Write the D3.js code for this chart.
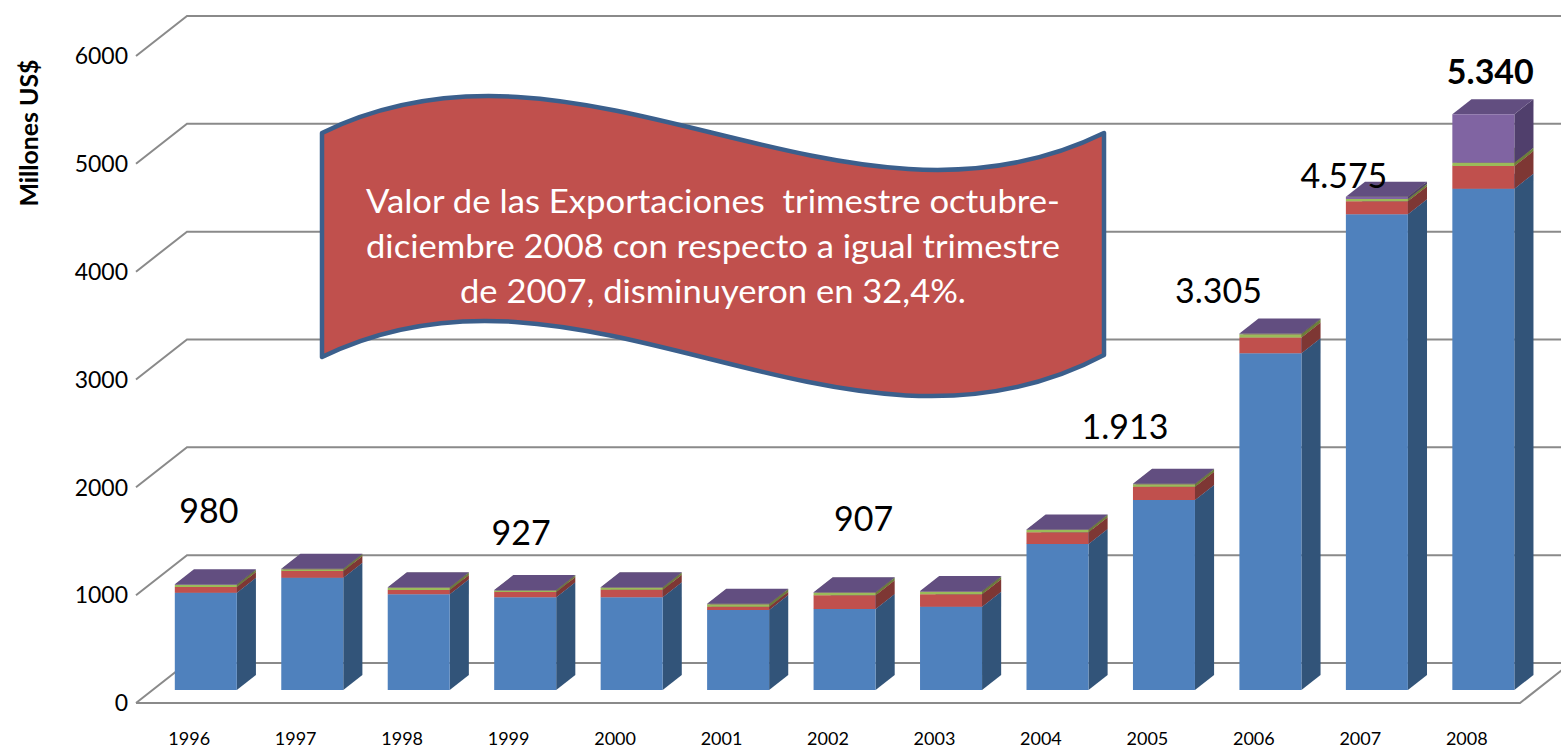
<!DOCTYPE html>
<html><head><meta charset="utf-8">
<script src="https://cdn.jsdelivr.net/npm/d3@7"></script>
<style>body{margin:0;background:#fff;} svg{display:block;}</style>
</head><body><svg id="c" width="1561" height="750"></svg>
<script>
// ---------- DATA ----------
const years  = ["1996","1997","1998","1999","2000","2001","2002","2003","2004","2005","2006","2007","2008"];
const blue   = [903, 1042, 887, 860, 860, 742, 751, 773, 1354, 1762, 3122, 4411, 4649];
const red    = [53,  62,   40,  48,  70,  31,  127, 115, 108,  123,  148,  121,  210];
const green  = [18,  16,   21,  15,  18,  22,  24,  24,  22,   22,   28,   21,   30];
const purple = [6,   5,    5,   4,   5,   5,   5,   5,   5,    6,    7,    22,   451];
const yTicks = [0, 1000, 2000, 3000, 4000, 5000, 6000];
const labelYears = ["1996","1999","2002","2005","2006","2007","2008"];
const yTitle = "Millones US$";
const bannerLines = [
  "Valor de las Exportaciones  trimestre octubre-",
  "diciembre 2008 con respecto a igual trimestre",
  "de 2007, disminuyeron en 32,4%."
];

// ---------- LAYOUT ----------
const svg = d3.select("#c");
const DX = 51, DY = 40;          // oblique depth offset
const D1 = 0.325, D2 = 0.70;     // bar depth span
const x = d3.scaleBand().domain(years).range([136, 1520]).paddingInner(0.4176).paddingOuter(0.2088);
const y = d3.scaleLinear().domain([0, 6000]).range([703, 56]);
const P = (xv, v, d) => [xv + DX * d, y(v) - DY * d];
const fmt = d3.formatLocale({decimal: ",", thousands: ".", grouping: [3], currency: ["", ""]}).format(",d");

// gridlines (left wall diagonal + back wall horizontal)
const grid = svg.append("g");
yTicks.forEach(t => {
  const a = P(136, t, 0), b = P(136, t, 1), c = P(1520, t, 1);
  grid.append("path").attr("d", `M${a}L${b}L${c}`)
    .attr("fill", "none").attr("stroke", "#8a8a8a").attr("stroke-width", 2);
});
// floor front + right edges
{
  const a = P(136, 0, 0), b = P(1520, 0, 0), c = P(1520, 0, 1);
  grid.append("path").attr("d", `M${a}L${b}L${c}`)
    .attr("fill", "none").attr("stroke", "#8a8a8a").attr("stroke-width", 2);
}

// tick labels
svg.append("g").selectAll("text").data(yTicks).join("text")
  .attr("x", 128).attr("y", d => y(d)).attr("dy", "0.36em")
  .attr("text-anchor", "end").attr("font-family", "Lato").attr("font-size", 23)
  .attr("fill", "#000").text(d => d);

// axis title
svg.append("text").attr("transform", "translate(38,133) rotate(-90)")
  .attr("text-anchor", "middle").attr("font-family", "Lato").attr("font-weight", "bold")
  .attr("font-size", 24).attr("textLength", 147).attr("lengthAdjust", "spacingAndGlyphs")
  .attr("fill", "#000").text(yTitle);

// category labels
svg.append("g").selectAll("text").data(years).join("text")
  .attr("x", d => x(d) + x.bandwidth() / 2).attr("y", 745)
  .attr("text-anchor", "middle").attr("font-family", "Lato").attr("font-size", 18)
  .attr("fill", "#000").text(d => d);

// stacked 3D bars
const rows = years.map((yr, i) => ({year: yr, blue: blue[i], red: red[i], green: green[i], purple: purple[i]}));
const keys = ["blue", "red", "green", "purple"];
const colors = {
  blue:   {front: "#4f81bd", side: "#325479", top: "#4a79b2"},
  red:    {front: "#c0504d", side: "#7e3734", top: "#a84644"},
  green:  {front: "#9bbb59", side: "#6a803a", top: "#8aa84e"},
  purple: {front: "#8064a2", side: "#503f6c", top: "#624e80"}
};
const series = d3.stack().keys(keys)(rows);
const bars = svg.append("g");
rows.forEach((r, i) => {
  const x0 = x(r.year), x1 = x0 + x.bandwidth();
  series.forEach(s => {
    const [v0, v1] = s[i];
    const c = colors[s.key];
    const poly = pts => "M" + pts.map(p => p.join(",")).join("L") + "Z";
    bars.append("path").attr("d", poly([P(x1, v0, D1), P(x1, v0, D2), P(x1, v1, D2), P(x1, v1, D1)]))
      .attr("fill", c.side);
    bars.append("path").attr("d", poly([P(x0, v1, D1), P(x1, v1, D1), P(x1, v1, D2), P(x0, v1, D2)]))
      .attr("fill", c.top);
    bars.append("path").attr("d", poly([P(x0, v0, D1), P(x1, v0, D1), P(x1, v1, D1), P(x0, v1, D1)]))
      .attr("fill", c.front);
  });
});

// banner (wave shape)
{
  const L = 322, R = 1104, T = 133, B = 357, h = 128, w = R - L;
  const p = d3.path();
  p.moveTo(L, T);
  p.bezierCurveTo(L + w / 3, T - h, R - w / 3, T + h, R, T);
  p.lineTo(R, B - 2);
  p.bezierCurveTo(R - w / 3, B + h + 8, L + w / 3, B - h, L, B);
  p.closePath();
  svg.append("path").attr("d", p.toString()).attr("fill", "#c0504d")
    .attr("stroke", "#3b5f8c").attr("stroke-width", 4.5).attr("stroke-linejoin", "round");
  const lineW = [694, 694, 506];
  svg.append("g").selectAll("text").data(bannerLines).join("text")
    .attr("x", 713).attr("y", (d, i) => 213 + i * 45)
    .attr("text-anchor", "middle").attr("font-family", "Lato").attr("font-size", 32)
    .style("white-space", "pre").attr("xml:space", "preserve")
    .attr("fill", "#fff").attr("textLength", (d, i) => lineW[i]).attr("lengthAdjust", "spacingAndGlyphs")
    .text(d => d);
}

// total labels
const labelOff = {"1996": [3, -74], "1999": [-4, -57], "2002": [19, -73], "2005": [-39, -57],
                  "2006": [-52, -43], "2007": [-33, -21], "2008": [7, -42]};
svg.append("g").selectAll("text").data(labelYears).join("text")
  .each(function(yr) {
    const i = years.indexOf(yr);
    const total = blue[i] + red[i] + green[i] + purple[i];
    const cx = x(yr) + x.bandwidth() / 2 + DX * D1, ty = y(total) - DY * D1;
    const o = labelOff[yr];
    d3.select(this).attr("x", cx + o[0]).attr("y", ty + o[1]).attr("dy", "0.36em")
      .attr("text-anchor", "middle").attr("font-family", "Lato")
      .attr("font-size", 34).attr("font-weight", yr === "2008" ? "bold" : "normal")
      .attr("fill", "#000").text(fmt(total));
  });
</script>
</body></html>
